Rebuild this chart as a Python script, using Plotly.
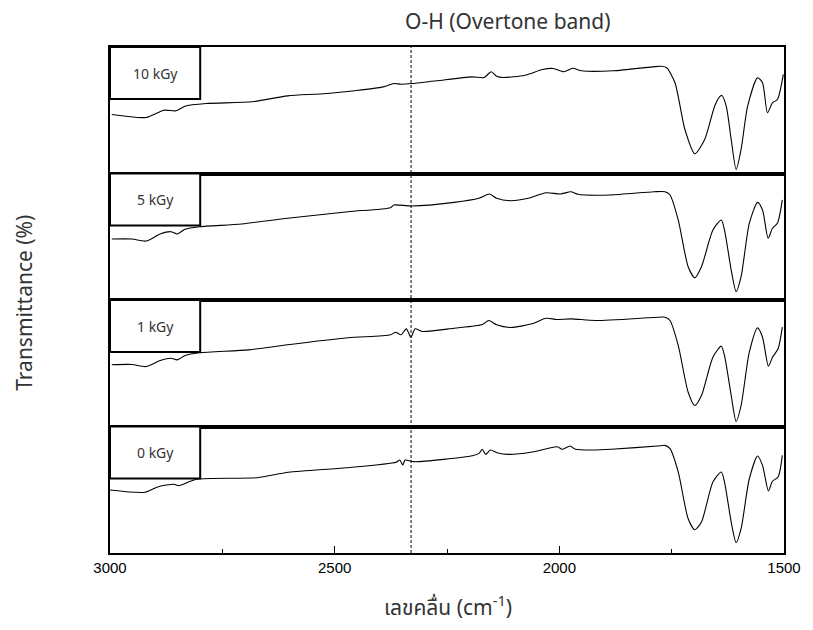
import plotly.graph_objects as go
from plotly.subplots import make_subplots

# ---------------- data ----------------
labels = ["10 kGy", "5 kGy", "1 kGy", "0 kGy"]

wn_10 = [2996, 2919.7, 2880.2, 2852.6, 2833, 2785.8, 2683.2, 2604.5, 2517.8, 2391.8, 2368.2, 2352.3,
         2328.7, 2273.6, 2194.8, 2167.3, 2151.6, 2139.7, 2124, 2076.6, 2037.3, 2013.7, 1989.9, 1970.3,
         1950.6, 1879.6, 1793.1, 1771.9, 1760.9, 1742.6, 1720.5, 1698.5, 1676.5, 1654.4, 1643.4, 1638.3,
         1628.6, 1617.5, 1606.5, 1595.5, 1580.9, 1558.8, 1547.8, 1536.8, 1525.7, 1514.7, 1501.5]
t_10 = [46.6, 44.3, 50.0, 49.6, 53.2, 55.3, 56.7, 61.4, 63.2, 68.5, 71.1, 70.6,
        71.1, 73.3, 76.4, 75.9, 80.4, 76.9, 75.9, 77.7, 82.2, 83.0, 80.4, 83.2,
        81.2, 81.2, 84.3, 84.8, 83.6, 71.7, 34.8, 15.6, 26.9, 53.2, 60.6, 61.7,
        53.2, 26.9, 3.2, 19.0, 53.2, 75.7, 71.7, 48.0, 55.9, 58.5, 78.3]

wn_5 = [2996, 2951.2, 2919.7, 2888.2, 2864.6, 2850.2, 2833, 2801.5, 2706.8, 2604.5, 2470.6, 2375.9,
        2368.2, 2328.7, 2234.3, 2179.1, 2155.3, 2139.7, 2108.1, 2068.9, 2029.4, 1997.8, 1974.2, 1958.6,
        1887.5, 1789.1, 1764.7, 1753.7, 1735.3, 1713.3, 1698.5, 1683.7, 1658.2, 1639.6, 1632.4, 1617.5,
        1606.5, 1595.5, 1577.2, 1558.8, 1547.8, 1535.3, 1525.7, 1514.7, 1503.7]
t_5 = [48.2, 48.2, 46.6, 52.2, 54.0, 52.2, 55.9, 57.9, 60.1, 64.6, 69.8, 73.0,
       75.1, 74.3, 77.2, 80.4, 83.8, 80.4, 78.5, 80.4, 84.8, 83.8, 85.6, 83.6,
       83.0, 85.6, 85.6, 83.0, 63.2, 26.3, 17.6, 26.3, 55.3, 63.2, 55.3, 23.7,
       6.6, 18.4, 60.6, 77.2, 71.1, 48.8, 56.7, 60.6, 79.1]

wn_1 = [2996, 2951.2, 2919.7, 2888.2, 2864.6, 2850.2, 2833, 2801.5, 2691.2, 2604.5, 2470.6, 2375.9,
        2364.2, 2352.3, 2340.6, 2330.3, 2320.8, 2305.1, 2234.3, 2171.2, 2157.1, 2139.7, 2108.1, 2060.9,
        2029.4, 2005.8, 1974.2, 1919.1, 1789.1, 1764.7, 1753.7, 1735.3, 1713.3, 1698.5, 1683.7, 1658.2,
        1639.6, 1632.4, 1617.5, 1606.5, 1595.5, 1577.2, 1558.8, 1547.8, 1534.6, 1525.7, 1513.2, 1503.7]
t_1 = [48.8, 49.0, 47.4, 52.2, 54.0, 52.7, 56.1, 58.3, 60.6, 64.6, 70.1, 72.5,
       74.5, 72.5, 77.2, 70.6, 77.2, 75.1, 77.7, 80.6, 83.8, 80.4, 78.3, 81.2,
       85.6, 84.6, 85.1, 83.8, 86.2, 86.4, 83.8, 64.0, 27.1, 16.6, 24.5, 54.8,
       63.5, 56.1, 24.5, 4.0, 16.6, 58.7, 78.0, 70.6, 47.7, 54.8, 61.4, 78.5]

wn_0 = [3000, 2922.4, 2892.3, 2857.3, 2847.3, 2807.4, 2672.6, 2602.9, 2473, 2363.4, 2355.2, 2348.4,
        2343.3, 2323.4, 2193.5, 2178.5, 2171.6, 2163.7, 2153.6, 2138.6, 2113.7, 2063.8, 2023.8, 2004,
        1994.1, 1976, 1964.1, 1924.2, 1884.2, 1774.4, 1764.7, 1753.7, 1735.3, 1713.3, 1698.5, 1683.7,
        1658.2, 1639.6, 1632.4, 1617.5, 1606.5, 1595.5, 1577.2, 1558.8, 1547.8, 1534.6, 1525.7, 1513.2,
        1503.7]
t_0 = [49.8, 48.0, 52.4, 54.3, 53.2, 58.3, 59.5, 63.8, 67.4, 71.7, 73.5, 69.6,
       73.5, 72.2, 76.9, 78.8, 82.0, 78.0, 81.4, 79.3, 78.0, 79.6, 82.8, 84.0,
       82.0, 84.6, 82.0, 81.4, 82.0, 84.8, 85.1, 82.5, 64.0, 27.1, 18.4, 24.5,
       56.1, 64.0, 56.1, 24.5, 8.1, 19.2, 58.7, 76.7, 69.3, 49.0, 56.7, 60.1,
       77.2]

series_x = [wn_10, wn_5, wn_1, wn_0]
series_y = [t_10, t_5, t_1, t_0]

x_ticks = [3000, 2500, 2000, 1500]
x_minor = [2750, 2250, 1750]
marker_wn = 2330

# ---------------- figure ----------------
fig = make_subplots(rows=4, cols=1, shared_xaxes=True, vertical_spacing=0)

for i in range(4):
    fig.add_trace(go.Scatter(x=series_x[i], y=series_y[i], mode="lines",
                             line=dict(color="black", width=1.1, shape="spline", smoothing=0.7),
                             showlegend=False, hoverinfo="skip"), row=i + 1, col=1)

for i in range(4):
    xa = "xaxis" if i == 0 else f"xaxis{i+1}"
    ya = "yaxis" if i == 0 else f"yaxis{i+1}"
    bottom = (i == 3)
    fig.layout[xa].update(range=[3000, 1500], showline=True, linecolor="black", linewidth=1.5,
                          mirror=True, showgrid=False, zeroline=False,
                          ticks="inside" if bottom else "", ticklen=7, tickcolor="black",
                          tickvals=x_ticks if bottom else [], showticklabels=bottom,
                          tickfont=dict(family="Liberation Sans, Arial", size=15, color="black"))
    if bottom:
        fig.layout[xa].update(minor=dict(tickvals=x_minor, ticks="inside", ticklen=4, tickcolor="black"))
    fig.layout[ya].update(range=[0, 100], showline=True, linecolor="black", linewidth=1.5,
                          mirror=True, showgrid=False, zeroline=False, ticks="",
                          showticklabels=False)

# dashed marker line
fig.add_shape(type="line", xref="x", yref="paper", x0=marker_wn, x1=marker_wn, y0=0, y1=1,
              line=dict(color="black", width=1, dash="3px,2px"))

# label boxes
box_w = 91 / 680
box_h = 52 / 126.5
for i, lab in enumerate(labels):
    yd = "y domain" if i == 0 else f"y{i+1} domain"
    fig.add_shape(type="rect", xref="paper", yref=yd, x0=0, x1=box_w, y0=1 - box_h, y1=1,
                  line=dict(color="black", width=2), fillcolor="white", layer="above")
    fig.add_annotation(text=lab, xref="paper", yref=yd, x=box_w / 2, y=1 - box_h / 2,
                       xanchor="center", yanchor="middle",
                       showarrow=False, font=dict(family="Noto Sans", size=14, color="#333"))

PW, PH = 680, 506
fig.add_annotation(text="O-H (Overtone band)", xref="paper", yref="paper",
                   x=(512 - 110) / PW, y=1 + (47 - 21) / PH, xanchor="center", yanchor="middle",
                   showarrow=False, font=dict(family="Noto Sans", size=21, color="#333"))
fig.add_annotation(text="Transmittance (%)", xref="paper", yref="paper",
                   x=(23 - 110) / PW, y=1 - (303 - 47) / PH, textangle=-90,
                   xanchor="center", yanchor="middle", showarrow=False,
                   font=dict(family="Noto Sans", size=21, color="#333"))
fig.add_annotation(text="เลขคลื่น (cm<sup>-1</sup>)", xref="paper", yref="paper",
                   x=(451 - 110) / PW, y=-(607 - 553) / PH, xanchor="center", yanchor="middle",
                   showarrow=False,
                   font=dict(family="Noto Sans Thai, Noto Sans, sans-serif", size=21, color="#333"))

fig.update_layout(width=813, height=630, margin=dict(l=110, r=23, t=47, b=77),
                  plot_bgcolor="white", paper_bgcolor="white")

# remove the page's default body margin so the figure sits at the window origin
fig.write_html("out.html", config={"displayModeBar": False},
               post_script="document.body.style.margin='0';document.body.style.overflow='hidden';")
